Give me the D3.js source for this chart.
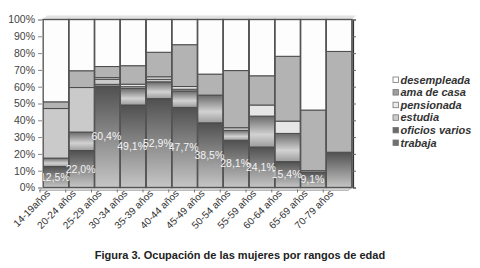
<!DOCTYPE html>
<html>
<head>
<meta charset="utf-8">
<script src="https://cdn.jsdelivr.net/npm/d3@7"></script>
<style>
    body { margin: 0; background: #fff; }
    svg { font-family: Arial, "Liberation Sans", sans-serif; }
    .tick text { fill: #444; }
</style>
</head>
<body>
<svg id="chart" width="480" height="268"></svg>
<script>
// age ranges
let categories = ["14-19años", "20-24 años", "25-29 años", "30-34 años", "35-39 años", "40-44 años",
    "45-49 años", "50-54 años", "55-59 años", "60-64 años", "65-69 años", "70-79 años"];

// series values (% of women in each range), bottom to top of the stack
let trabaja      = [12.5, 22.0, 60.4, 49.1, 52.9, 47.7, 38.5, 28.1, 24.1, 15.4, 9.1, 21.0];
let oficiosVarios = [5.0, 11.0, 1.0, 9.9, 10.0, 9.8, 16.5, 5.9, 18.4, 16.8, 0.9, 0];
let estudia      = [29.5, 26.5, 3.0, 1.0, 1.5, 1.0, 0, 1.6, 0, 0, 0, 0];
let pensionada   = [0, 0, 1.0, 1.5, 1.5, 1.6, 0, 0, 6.6, 7.3, 0, 0];
let amaDeCasa    = [4.0, 10.0, 6.6, 11.0, 14.6, 24.9, 12.5, 34.0, 17.4, 38.6, 36.1, 60.0];
let desempleada  = [49.0, 30.5, 28.0, 27.5, 19.5, 15.0, 32.5, 30.4, 33.5, 21.9, 53.9, 19.0];

// labels written on the "trabaja" segments (last bar has none)
let trabajaLabels = ["12,5%", "22,0%", "60,4%", "49,1%", "52,9%", "47,7%", "38,5%", "28,1%", "24,1%", "15,4%", "9,1%", null];

let yTicks = [0, 10, 20, 30, 40, 50, 60, 70, 80, 90, 100];

let seriesNames = ["trabaja", "oficios varios", "estudia", "pensionada", "ama de casa", "desempleada"];
let seriesValues = [trabaja, oficiosVarios, estudia, pensionada, amaDeCasa, desempleada];

let svg = d3.select("#chart");

// gradients for the two darker series
let defs = svg.append("defs");
let gTrab = defs.append("linearGradient").attr("id", "gTrab").attr("x1", 0).attr("y1", 0).attr("x2", 0).attr("y2", 1);
gTrab.append("stop").attr("offset", "0%").attr("stop-color", "#505050");
gTrab.append("stop").attr("offset", "100%").attr("stop-color", "#c6c6c6");
let gOfi = defs.append("linearGradient").attr("id", "gOfi").attr("x1", 0).attr("y1", 0).attr("x2", 0).attr("y2", 1);
gOfi.append("stop").attr("offset", "0%").attr("stop-color", "#6a6a6a");
gOfi.append("stop").attr("offset", "60%").attr("stop-color", "#d2d2d2");
gOfi.append("stop").attr("offset", "100%").attr("stop-color", "#9c9c9c");

let fills = {
    "trabaja": "url(#gTrab)",
    "oficios varios": "url(#gOfi)",
    "estudia": "#cacaca",
    "pensionada": "#e6e6e6",
    "ama de casa": "#b3b3b3",
    "desempleada": "#fdfdfd"
};
let legendFills = {
    "trabaja": "#707070",
    "oficios varios": "#6a6a6a",
    "estudia": "#cccccc",
    "pensionada": "#ececec",
    "ama de casa": "#9e9e9e",
    "desempleada": "#ffffff"
};

// scales
let x = d3.scaleBand().domain(categories).range([43, 352]).padding(0);
let y = d3.scaleLinear().domain([0, 100]).range([187.5, 19.5]);

// 3D wall top and floor
svg.append("polygon")
    .attr("points", [[43, y(100)], [47, y(100) - 4], [356, y(100) - 4], [352, y(100)]].join(" "))
    .attr("fill", "#e2e2e2");
svg.append("polygon")
    .attr("points", [[43, y(0)], [39, y(0) + 3], [348, y(0) + 3], [352, y(0)]].join(" "))
    .attr("fill", "#d6d6d6").attr("stroke", "#999").attr("stroke-width", 0.6);

// stack the data
let table = categories.map(function(c, i) {
    let row = { cat: c };
    seriesNames.forEach(function(s, k) { row[s] = seriesValues[k][i]; });
    return row;
});
let stack = d3.stack().keys(seriesNames)(table);

// draw segments
let layers = svg.append("g").selectAll("g")
    .data(stack)
    .enter()
    .append("g")
    .attr("fill", function(d) { return fills[d.key]; });

layers.selectAll("rect")
    .data(function(d) { return d.filter(function(p) { return p[1] - p[0] > 0; }); })
    .enter()
    .append("rect")
    .attr("x", function(d) { return x(d.data.cat); })
    .attr("width", x.bandwidth())
    .attr("y", function(d) { return y(d[1]); })
    .attr("height", function(d) { return y(d[0]) - y(d[1]); })
    .attr("stroke", "#4a4a4a")
    .attr("stroke-width", 1);

// bar outlines
svg.append("g").selectAll("rect")
    .data(categories)
    .enter()
    .append("rect")
    .attr("x", function(d) { return x(d); })
    .attr("width", x.bandwidth())
    .attr("y", y(100))
    .attr("height", y(0) - y(100))
    .attr("fill", "none")
    .attr("stroke", "#555")
    .attr("stroke-width", 1.4);

// percentage labels on trabaja
svg.append("g").selectAll("text")
    .data(stack[0].filter(function(d, i) { return trabajaLabels[i] !== null; }))
    .enter()
    .append("text")
    .attr("x", function(d) { return x(d.data.cat) + x.bandwidth() / 2 - 1; })
    .attr("y", function(d) { return y((d[0] + d[1]) / 2) + 3.5; })
    .attr("text-anchor", "middle")
    .attr("fill", "#f4f4f4")
    .attr("font-size", "10.5px")
    .text(function(d) { return trabajaLabels[categories.indexOf(d.data.cat)]; });

// y axis
let yAxis = svg.append("g")
    .attr("transform", "translate(42,0)")
    .call(d3.axisLeft(y).tickValues(yTicks).tickSize(4).tickPadding(3).tickFormat(function(d) { return d + "%"; }));
yAxis.select(".domain").attr("stroke", "#aaa");
yAxis.selectAll(".tick line").attr("stroke", "#888");
yAxis.selectAll("text").attr("font-size", "10.5px").attr("font-family", "Arial, 'Liberation Sans', sans-serif");

// right side depth axis
let rAxis = svg.append("g")
    .attr("transform", "translate(353,0)")
    .call(d3.axisRight(y).tickValues(yTicks).tickSize(3).tickFormat(""));
rAxis.select(".domain").attr("stroke", "#333").attr("stroke-width", 1.2);
rAxis.selectAll(".tick line").attr("stroke", "#666");

// x ticks at bar boundaries
svg.append("g").selectAll("line")
    .data(categories)
    .enter()
    .append("line")
    .attr("x1", function(d) { return x(d) - 3; })
    .attr("x2", function(d) { return x(d) - 3; })
    .attr("y1", y(0) + 2)
    .attr("y2", y(0) + 5)
    .attr("stroke", "#777");

// x labels
svg.append("g").selectAll("text")
    .data(categories)
    .enter()
    .append("text")
    .attr("transform", function(d) {
        return "translate(" + (x(d) + x.bandwidth() / 2 - 5) + "," + 194 + ") rotate(-45)";
    })
    .attr("text-anchor", "end")
    .attr("font-size", "10px")
    .attr("fill", "#333")
    .text(function(d) { return d; });

// legend (top entry is the top of the stack)
let legendItems = seriesNames.slice().reverse();
let legend = svg.append("g").selectAll("g")
    .data(legendItems)
    .enter()
    .append("g")
    .attr("transform", function(d, i) { return "translate(393," + (80 + i * 12.6) + ")"; });
legend.append("rect")
    .attr("x", 0).attr("y", -3)
    .attr("width", 5.5).attr("height", 5.5)
    .attr("fill", function(d) { return legendFills[d]; })
    .attr("stroke", "#777").attr("stroke-width", 0.8);
legend.append("text")
    .attr("x", 7.5).attr("y", 3.5)
    .attr("font-size", "11px")
    .attr("font-weight", "bold")
    .attr("font-style", "italic")
    .attr("fill", "#333")
    .text(function(d) { return d; });

// caption
svg.append("text")
    .attr("x", 240).attr("y", 259)
    .attr("text-anchor", "middle")
    .attr("font-size", "11px")
    .attr("font-weight", "bold")
    .attr("fill", "#222")
    .text("Figura 3. Ocupación de las mujeres por rangos de edad");
</script>
</body>
</html>
